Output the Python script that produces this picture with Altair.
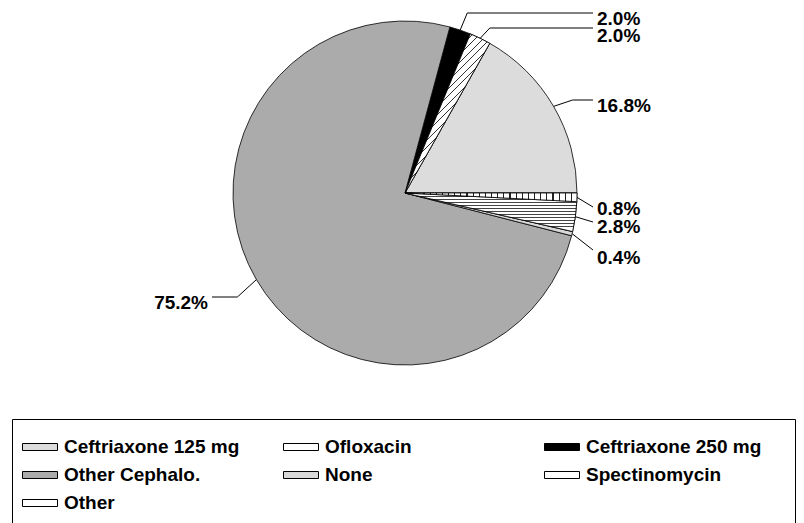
import math
import altair as alt
import pandas as pd

# ---- data (counter-clockwise from 3 o'clock, also legend order) ----
categories = ["Ceftriaxone 125 mg", "Ofloxacin", "Ceftriaxone 250 mg",
              "Other Cephalo.", "None", "Spectinomycin", "Other"]
values = [16.8, 2.0, 2.0, 75.2, 0.4, 2.8, 0.8]
fills = ["#dcdcdc", "#ffffff", "#000000", "#ababab", "#d8d8d8", "#ffffff", "#ffffff"]

# ---- layout (page pixels) ----
M = 8                      # page margin
W, H = 788, 515            # drawing area
CX, CY = 405, 193          # pie centre
R = 172                    # pie radius
ELBOW = 22
RIGHT_END, LEFT_END = 593, 212
leader_y = [100, 28, 13, 297, 250, 222, 207]
label_y = [106, 36, 19, 303, 258, 227, 209]
FONT = "Liberation Sans"
FS = 19
SYMBOL = "M-1,-0.2L1,-0.2L1,0.2L-1,0.2Z"
LX, LY = 4, 411
SHADOW_BOX = (16, 423, 800, 521)  # drop shadow frame behind the legend

n = len(categories)
df = pd.DataFrame({
    "cat": categories,
    "value": values,
    "cw": [n - 1 - i for i in range(n)],
})

# leader lines computed from slice mid-angles
total = sum(values)
rows, labs = [], []
cum = 0.0
for i, (c, v) in enumerate(zip(categories, values)):
    mid = (cum + v / 2) / total * 2 * math.pi
    cum += v
    ex, ey = CX + R * math.cos(mid), CY - R * math.sin(mid)
    rx = CX + (R + ELBOW) * math.cos(mid)
    right = math.cos(mid) >= 0
    ly = leader_y[i]
    if right:
        p1x = min(rx, RIGHT_END)
        p2x = RIGHT_END
        tx = p2x + 4
    else:
        p1x = max(rx, LEFT_END)
        p2x = LEFT_END
        tx = p2x - 4
    for k, (px, py) in enumerate([(ex, ey), (p1x, ly), (p2x, ly)]):
        rows.append({"cat": c, "step": k, "x": px - M, "y": py - M})
    labs.append({"cat": c, "text": f"{v:.1f}%", "x": tx - M, "y": label_y[i] - M,
                 "side": "right" if right else "left"})
lines_df = pd.DataFrame(rows)
labs_df = pd.DataFrame(labs)

xs = alt.Scale(domain=[0, W], nice=False, zero=False)
ys = alt.Scale(domain=[H, 0], nice=False, zero=False)
theta_scale = alt.Scale(domain=[0, total], range=[math.pi / 2, math.pi / 2 + 2 * math.pi])

# drop shadow behind the legend frame
shadow = alt.Chart(pd.DataFrame({"k": [0]})).mark_rect(color="black", opacity=1).encode(
    x=alt.value(SHADOW_BOX[0] - M), x2=alt.value(SHADOW_BOX[2] - M),
    y=alt.value(SHADOW_BOX[1] - M), y2=alt.value(SHADOW_BOX[3] - M),
)

pie = alt.Chart(df).mark_arc(
    radius=R, x=CX - M, y=CY - M, stroke="black", strokeWidth=0.8
).encode(
    theta=alt.Theta("value:Q", stack=True, scale=theta_scale),
    order=alt.Order("cw:Q"),
    color=alt.Color(
        "cat:N",
        scale=alt.Scale(domain=categories, range=fills),
        legend=alt.Legend(
            orient="none", legendX=LX, legendY=LY, columns=3, direction="horizontal",
            gridAlign="all", columnPadding=41, rowPadding=0, padding=10,
            title="\u00a0", titleOrient="right", titlePadding=24, titleFontSize=10,
            strokeColor="black", fillColor="white",
            labelFont=FONT, labelFontSize=FS, labelFontWeight="bold", labelColor="black",
            symbolType=SYMBOL, symbolSize=1225,
            symbolStrokeColor="black", symbolStrokeWidth=1, symbolOpacity=1,
            labelOffset=6, labelLimit=400,
        ),
    ),
)


def stripes(n_lines, frac, color, x2, y2):
    stops = []
    for k in range(n_lines):
        a = k / n_lines
        b = a + frac / n_lines
        stops += [{"offset": a, "color": "white"}, {"offset": a, "color": color},
                  {"offset": b, "color": color}, {"offset": b, "color": "white"}]
    stops.append({"offset": 1, "color": "white"})
    return {"gradient": "linear", "x1": 0, "y1": 0, "x2": x2, "y2": y2, "stops": stops}


def hatch(cat, grad):
    return alt.Chart(df).transform_window(
        cum="sum(value)", sort=[alt.SortField("cw", order="ascending")],
        frame=[None, 0],
    ).transform_calculate(
        start="datum.cum - datum.value"
    ).transform_filter(alt.datum.cat == cat).mark_arc(
        radius=R, x=CX - M, y=CY - M, fill=grad, stroke="black", strokeWidth=0.8
    ).encode(
        theta=alt.Theta("start:Q", scale=theta_scale),
        theta2="cum:Q",
    )


hatch_spec = hatch("Spectinomycin", stripes(13, 0.3, "#444444", 0, 1))
hatch_other = hatch("Other", stripes(28, 0.18, "#222222", 1, 0))
hatch_oflox = hatch("Ofloxacin", stripes(24, 0.14, "#333333", 0.47, 0.88))

leaders = alt.Chart(lines_df).mark_line(color="black", strokeWidth=1).encode(
    x=alt.X("x:Q", scale=xs, axis=None),
    y=alt.Y("y:Q", scale=ys, axis=None),
    detail="cat:N",
    order="step:Q",
)

txt_r = alt.Chart(labs_df).transform_filter(alt.datum.side == "right").mark_text(
    align="left", baseline="middle", font=FONT, fontSize=FS, fontWeight="bold", color="black"
).encode(x=alt.X("x:Q", scale=xs, axis=None), y=alt.Y("y:Q", scale=ys, axis=None), text="text:N")

txt_l = alt.Chart(labs_df).transform_filter(alt.datum.side == "left").mark_text(
    align="right", baseline="middle", font=FONT, fontSize=FS, fontWeight="bold", color="black"
).encode(x=alt.X("x:Q", scale=xs, axis=None), y=alt.Y("y:Q", scale=ys, axis=None), text="text:N")

chart = alt.layer(shadow, pie, hatch_spec, hatch_other, hatch_oflox, leaders, txt_r, txt_l).properties(
    width=W, height=H, autosize=alt.AutoSizeParams(type="none"),
    padding={"left": 0, "top": 0, "right": 0, "bottom": 0},
    background="white",
).configure_view(stroke=None, strokeWidth=0)

chart.save("out.html", embed_options={"renderer": "svg", "actions": False})
